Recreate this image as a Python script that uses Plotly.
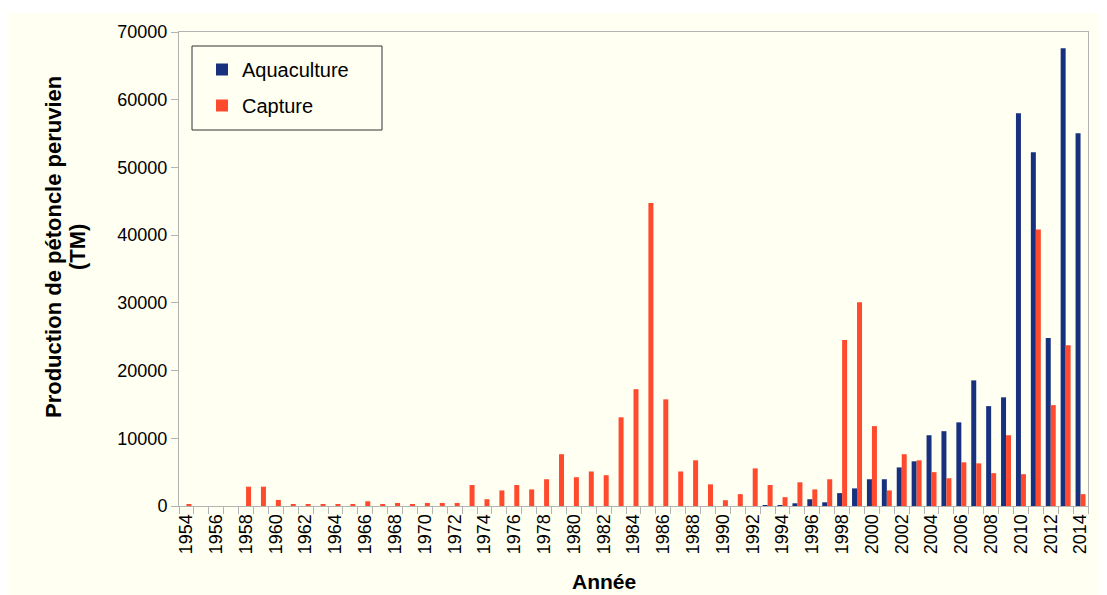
import plotly.graph_objects as go

years = [str(y) for y in range(1954, 2015)]

aquaculture = [None] * 39 + [
    100, 100, 400, 1000, 550, 1900, 2600, 3950, 3950, 5700,
    6600, 10450, 11050, 12350, 18550, 14750, 16050, 58000, 52250, 24800,
    67600, 55050,
]

capture = [
    300, 0, 0, 0, 2850, 2850, 900, 300, 300, 150,
    300, 300, 700, 300, 450, 300, 450, 450, 450, 3100,
    1000, 2300, 3100, 2450, 3950, 7650, 4250, 5100, 4550, 13100,
    17250, 44750, 15750, 5100, 6750, 3200, 850, 1750, 5550, 3100,
    1300, 3500, 2450, 3950, 24500, 30100, 11800, 2300, 7650, 6750,
    5000, 4100, 6450, 6300, 4850, 10450, 4700, 40850, 14900, 23750,
    1750,
]

tick_text = [y if int(y) % 2 == 0 else "" for y in years]
y_ticks = [0, 10000, 20000, 30000, 40000, 50000, 60000, 70000]

CREAM = "#fffff2"
BLUE = "#17317f"
ORANGE = "#ff4a2e"
GRID = "#b3b3b3"
FONT = "Liberation Sans"

fig = go.Figure()
fig.add_trace(go.Bar(x=years, y=aquaculture, name="Aquaculture",
                     marker=dict(color=BLUE, line=dict(width=0)), legendgroup="a"))
fig.add_trace(go.Bar(x=years, y=capture, name="Capture",
                     marker=dict(color=ORANGE, line=dict(width=0)), legendgroup="c"))

OFF = 8  # page body margin
SW, SH = 1107, 595          # screen size
PL, PR, PT, PB = 179, 1088, 32, 506  # plot area in screen px
W, H = SW - OFF, SH - OFF
L, T = PL - OFF, PT - OFF
R = W - (PR - OFF)
B = H - (PB - OFF)
pw, ph = PR - PL, PB - PT

def px(x):
    return (x - PL) / pw

def py(y):
    return (PB - y) / ph

fig.update_layout(
    width=W, height=H,
    margin=dict(l=L, r=R, t=T, b=B, pad=0),
    paper_bgcolor="white",
    plot_bgcolor=CREAM,
    font=dict(family=FONT, color="black", size=18),
    barmode="group",
    bargap=0.33,
    bargroupgap=0,
    showlegend=True,
    legend=dict(
        x=px(202), y=py(50), xanchor="left", yanchor="top",
        bgcolor="rgba(0,0,0,0)", borderwidth=0,
        font=dict(family=FONT, size=20, color="black"),
        traceorder="grouped", tracegroupgap=7,
    ),
    xaxis=dict(
        type="category", tickmode="array", tickvals=years, ticktext=tick_text,
        tickson="boundaries", ticks="outside", ticklen=7, tickcolor=GRID,
        tickangle=-90, showline=True, linecolor=GRID, linewidth=1, mirror=True,
        showgrid=False, tickfont=dict(size=18),
    ),
    yaxis=dict(
        range=[0, 70000], tickmode="array", tickvals=y_ticks,
        ticktext=[str(v) for v in y_ticks],
        ticks="outside", ticklen=7, tickcolor=GRID,
        showline=True, linecolor=GRID, linewidth=1, mirror=True,
        showgrid=False, zeroline=False, tickfont=dict(size=18),
    ),
    shapes=[
        dict(type="rect", xref="paper", yref="paper",
             x0=px(8), x1=px(SW + 20), y0=py(SH + 20), y1=py(13),
             fillcolor=CREAM, line=dict(width=0), layer="below"),
        dict(type="rect", xref="paper", yref="paper",
             x0=px(192), x1=px(382), y0=py(130), y1=py(46),
             fillcolor="rgba(0,0,0,0)", line=dict(color="#333333", width=1)),
    ],
    annotations=[
        dict(text="<b>Production de pétoncle peruvien</b>",
             xref="paper", yref="paper", x=px(53), y=py(247),
             xanchor="center", yanchor="middle", textangle=-90,
             showarrow=False, font=dict(family=FONT, size=22, color="black")),
        dict(text="<b>(TM)</b>",
             xref="paper", yref="paper", x=px(77), y=py(247),
             xanchor="center", yanchor="middle", textangle=-90,
             showarrow=False, font=dict(family=FONT, size=22, color="black")),
        dict(text="<b>Année</b>",
             xref="paper", yref="paper", x=px(604), y=py(581),
             xanchor="center", yanchor="middle",
             showarrow=False, font=dict(family=FONT, size=21, color="black")),
    ],
)

fig.write_html("out.html")
